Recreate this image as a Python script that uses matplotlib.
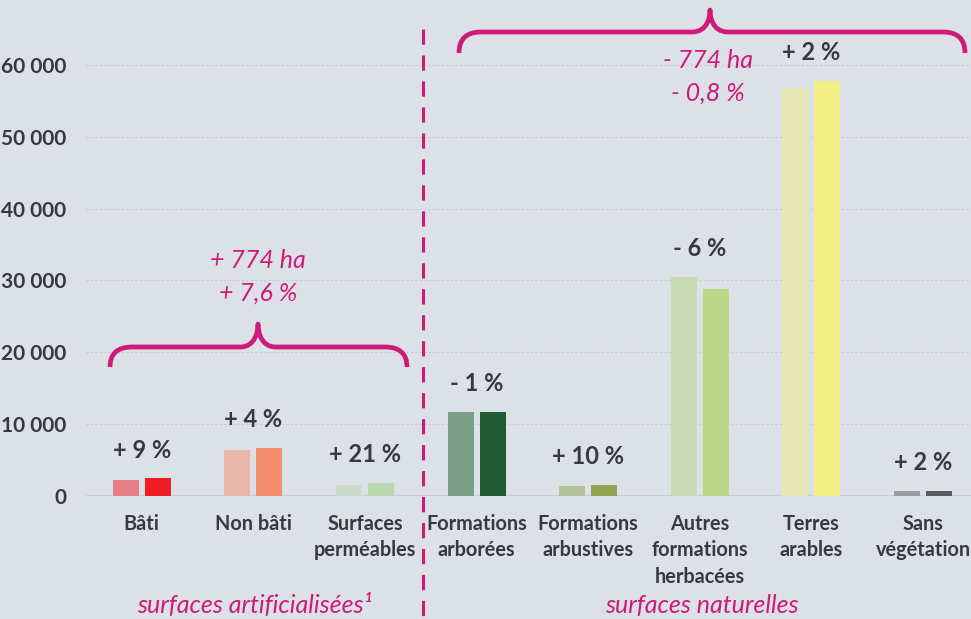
import matplotlib.pyplot as plt
from matplotlib.path import Path
from matplotlib.patches import PathPatch
import numpy as np

plt.rcParams['font.family'] = ['Lato', 'DejaVu Sans']

# data (hectares)
categories = ['Bâti', 'Non bâti', 'Surfaces\nperméables', 'Formations\narborées',
              'Formations\narbustives', 'Autres\nformations\nherbacées',
              'Terres\narables', 'Sans\nvégétation']
surf_before = [2200, 6400, 1480, 11700, 1350, 30450, 56850, 650]
surf_after = [2400, 6650, 1790, 11650, 1490, 28800, 57800, 660]
changes = ['+ 9 %', '+ 4 %', '+ 21 %', '- 1 %', '+ 10 %', '- 6 %', '+ 2 %', '+ 2 %']
col_before = ['#E57F85', '#E8B5A9', '#CADBC9', '#7A9D89', '#B7C39A', '#C9DBB4', '#E7E6B5', '#999DA0']
col_after = ['#EE1D24', '#F48E6F', '#B9D7AF', '#1F5A33', '#94A350', '#BBD886', '#F2EF87', '#575B5E']

MAGENTA = '#CF1A7A'
DARK = '#363A3D'
BG = '#DCE0E7'

W, H = 971, 619
fig = plt.figure(figsize=(W / 100, H / 100), dpi=100, facecolor=BG)

spacing = 111.6
ax_left, ax_bottom = 86, 123.3
ax_h = 6.3 * 71.8
ax = fig.add_axes([ax_left / W, ax_bottom / H, (W - ax_left) / W, ax_h / H])
ax.set_facecolor(BG)
ax.set_xlim(-0.5, -0.5 + (W - ax_left) / spacing)
ax.set_ylim(0, 63000)

x = np.arange(len(categories))
bw = 26 / spacing
off = 16 / spacing
ax.bar(x - off, surf_before, bw, color=col_before, zorder=3)
ax.bar(x + off, surf_after, bw, color=col_after, zorder=3)

for xi, a, b, lab in zip(x, surf_before, surf_after, changes):
    ax.annotate(lab, (xi, max(a, b)), xytext=(0, 15), textcoords='offset points',
                ha='center', va='baseline', fontsize=17, fontweight='bold', color=DARK)

ax.set_yticks(range(0, 60001, 10000))
ax.set_yticklabels([f'{v:,}'.replace(',', ' ') for v in range(0, 60001, 10000)])
ax.set_xticks(x)
ax.set_xticklabels(categories, fontsize=14.3, fontweight='bold', color=DARK, linespacing=1.42)
ax.tick_params(axis='x', length=0, pad=13)
ax.tick_params(axis='y', length=0, pad=14, labelsize=15, labelcolor=DARK)
for t in ax.get_yticklabels():
    t.set_fontweight('bold')
for s in ax.spines.values():
    s.set_visible(False)
ax.yaxis.grid(True, linestyle=(0, (2, 2)), color='#C8CBCE', linewidth=0.8, zorder=0)
ax.axhline(0, color='#C6CACE', linewidth=1.8, zorder=2)

# overlay in pixel coordinates for braces, separator and group texts
ov = fig.add_axes([0, 0, 1, 1], facecolor='none')
ov.set_xlim(0, W)
ov.set_ylim(H, 0)
ov.axis('off')


def brace(x0, x1, xm, y_tip, y_line, y_peak, r=22, r2=18):
    verts = [(x0, y_tip), (x0, y_line), (x0 + r, y_line),
             (xm - r2, y_line),
             (xm - 2, y_line), (xm, y_peak + 6), (xm, y_peak),
             (xm, y_peak + 6), (xm + 2, y_line), (xm + r2, y_line),
             (x1 - r, y_line),
             (x1, y_line), (x1, y_tip)]
    codes = [Path.MOVETO, Path.CURVE3, Path.CURVE3,
             Path.LINETO,
             Path.CURVE4, Path.CURVE4, Path.CURVE4,
             Path.CURVE4, Path.CURVE4, Path.CURVE4,
             Path.LINETO,
             Path.CURVE3, Path.CURVE3]
    ov.add_patch(PathPatch(Path(verts, codes), fill=False, edgecolor=MAGENTA,
                           linewidth=3.4, capstyle='butt', joinstyle='round'))


brace(110, 407, 258, 367, 347, 324)
brace(459, 965, 710, 53, 32, 10)

ov.plot([423, 423], [29, H], color=MAGENTA, linewidth=2.2, linestyle=(0, (5, 3.5)))

for txt, tx, ty in [('+ 774 ha', 258, 260), ('+ 7,6 %', 258, 293),
                    ('- 774 ha', 708, 60), ('- 0,8 %', 708, 93)]:
    ov.text(tx, ty, txt, ha='center', va='center', fontsize=18, style='italic', color=MAGENTA)

ov.text(255, 605, 'surfaces artificialisées¹', ha='center', va='center',
        fontsize=18, style='italic', color=MAGENTA)
ov.text(702, 605, 'surfaces naturelles', ha='center', va='center',
        fontsize=18, style='italic', color=MAGENTA)

fig.savefig('out.png', dpi=100, facecolor=BG)
